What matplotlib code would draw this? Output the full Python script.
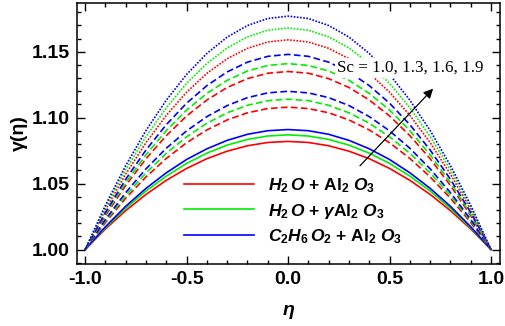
import numpy as np
import matplotlib
matplotlib.use("Agg")
import matplotlib.pyplot as plt
from matplotlib.ticker import MultipleLocator, FormatStrFormatter

plt.rcParams['font.family'] = ['Liberation Sans', 'DejaVu Sans']
plt.rcParams['mathtext.fontset'] = 'custom'
plt.rcParams['mathtext.rm'] = 'Liberation Sans:bold'
plt.rcParams['mathtext.it'] = 'Liberation Sans:italic:bold'
plt.rcParams['mathtext.bf'] = 'Liberation Sans:bold'
plt.rcParams['axes.unicode_minus'] = True

# eta from 0 to 1 (profiles are symmetric about eta = 0)
eta_half = [0.0, 0.1, 0.2, 0.3, 0.4, 0.5, 0.6, 0.7, 0.8, 0.9, 1.0]

# gamma(eta) for Sc = 1.0, 1.3, 1.6, 1.9 ; fluids: H2O+Al2O3, H2O+gAl2O3, C2H6O2+Al2O3
sc_values = [1.0, 1.3, 1.6, 1.9]
fluids = [r"$H_2\,O$ + Al$_2$ $O_3$",
          r"$H_2\,O$ + $\gamma$Al$_2$ $O_3$",
          r"$C_2H_6\,O_2$ + Al$_2$ $O_3$"]

sc10_red   = [1.0820, 1.0812, 1.0787, 1.0746, 1.0689, 1.0615, 1.0525, 1.0418, 1.0295, 1.0156, 1.0]
sc10_green = [1.0870, 1.0861, 1.0835, 1.0792, 1.0731, 1.0653, 1.0557, 1.0444, 1.0313, 1.0165, 1.0]
sc10_blue  = [1.0910, 1.0901, 1.0874, 1.0828, 1.0764, 1.0683, 1.0582, 1.0464, 1.0328, 1.0173, 1.0]

sc13_red   = [1.1080, 1.1069, 1.1037, 1.0983, 1.0907, 1.0810, 1.0691, 1.0551, 1.0389, 1.0205, 1.0]
sc13_green = [1.1140, 1.1129, 1.1094, 1.1037, 1.0958, 1.0855, 1.0730, 1.0581, 1.0410, 1.0217, 1.0]
sc13_blue  = [1.1200, 1.1188, 1.1152, 1.1092, 1.1008, 1.0900, 1.0768, 1.0612, 1.0432, 1.0228, 1.0]

sc16_red   = [1.1350, 1.1337, 1.1296, 1.1229, 1.1134, 1.1013, 1.0864, 1.0689, 1.0486, 1.0257, 1.0]
sc16_green = [1.1410, 1.1396, 1.1354, 1.1283, 1.1184, 1.1058, 1.0902, 1.0719, 1.0508, 1.0268, 1.0]
sc16_blue  = [1.1480, 1.1465, 1.1421, 1.1347, 1.1243, 1.1110, 1.0947, 1.0755, 1.0533, 1.0281, 1.0]

sc19_red   = [1.1590, 1.1574, 1.1526, 1.1447, 1.1336, 1.1193, 1.1018, 1.0811, 1.0572, 1.0302, 1.0]
sc19_green = [1.1680, 1.1663, 1.1613, 1.1529, 1.1411, 1.1260, 1.1075, 1.0857, 1.0605, 1.0319, 1.0]
sc19_blue  = [1.1770, 1.1752, 1.1699, 1.1611, 1.1487, 1.1328, 1.1133, 1.0903, 1.0637, 1.0336, 1.0]

groups = [
    (sc10_red, sc10_green, sc10_blue),
    (sc13_red, sc13_green, sc13_blue),
    (sc16_red, sc16_green, sc16_blue),
    (sc19_red, sc19_green, sc19_blue),
]
styles = ['-', (0, (4, 2)), (0, (4, 2)), (0, (1, 0.9))]
colors = ['#ff0000', '#00ee00', '#0000ff']


def full(half):
    # mirror the half profile onto negative eta
    return list(half[::-1]) + list(half[1:])


eta = [-e for e in eta_half[::-1]] + eta_half[1:]

fig = plt.figure(figsize=(5.05, 3.26), dpi=100)
ax = fig.add_axes([0.1525, 0.19, 0.8375, 0.801])

for g, ls in zip(groups, styles):
    for vals, c, lab in zip(g, colors, fluids):
        ax.plot(eta, full(vals), color=c, lw=1.2, linestyle=ls,
                label=lab if ls == '-' else None)

ax.set_xlim(-1.04, 1.044)
ax.set_ylim(0.989, 1.187)

ax.xaxis.set_major_locator(MultipleLocator(0.5))
ax.xaxis.set_minor_locator(MultipleLocator(0.1))
ax.yaxis.set_major_locator(MultipleLocator(0.05))
ax.yaxis.set_minor_locator(MultipleLocator(0.01))
ax.xaxis.set_major_formatter(FormatStrFormatter('%.1f'))
ax.yaxis.set_major_formatter(FormatStrFormatter('%.2f'))
ax.tick_params(which='both', direction='in', top=True, right=True, width=1)
ax.tick_params(which='major', length=6, labelsize=14, pad=5)
ax.tick_params(which='minor', length=3)
for t in ax.get_xticklabels() + ax.get_yticklabels():
    t.set_fontweight('bold')
for s in ax.spines.values():
    s.set_linewidth(1.1)

ax.set_xlabel('η', fontsize=14, fontweight='bold', style='italic', labelpad=10)
ax.set_ylabel('γ(η)', fontsize=14, fontweight='bold', labelpad=3)

ax.annotate('', xy=(0.724, 1.1235), xytext=(0.345, 1.062),
            arrowprops=dict(arrowstyle='-|>', color='black', lw=0.9,
                            mutation_scale=14))
ax.text(0.24, 1.138, 'Sc = 1.0, 1.3, 1.6, 1.9', family='Liberation Serif',
        fontsize=12.3, va='center', ha='left', zorder=5,
        bbox=dict(facecolor='white', edgecolor='none', pad=1.5))

ax.legend(loc='center left', bbox_to_anchor=(0.233, 0.203), frameon=False,
          borderpad=0, handlelength=4.0, handletextpad=0.8, labelspacing=0.4,
          prop={'size': 12.5, 'weight': 'bold'})

fig.savefig('out.png', dpi=100)
